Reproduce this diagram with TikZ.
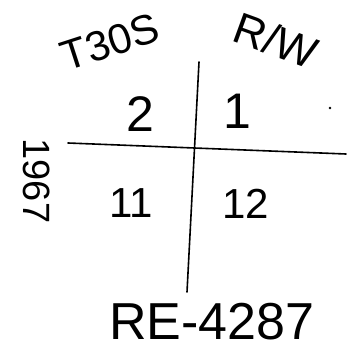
\documentclass[tikz,border=0pt]{standalone}
\usepackage{fontspec}
\setmainfont{Liberation Sans}
\begin{document}
\begin{tikzpicture}[x=1pt,y=-1pt,
  hand/.style={inner sep=0pt, font=\fontsize{#1}{#1}\selectfont},
  stroke/.style={line width=1.6pt, line cap=round}]
\useasboundingbox (0,0) rectangle (346,355);
% lines
\coordinate (vtop) at (199,62);
\coordinate (vbot) at (187,292);
\coordinate (hleft) at (68,143);
\coordinate (hright) at (346,154);
\draw[stroke] (vtop) -- (vbot);
\draw[stroke] (hleft) -- (hright);
% labels
\node[hand=42, rotate=18] (t30s) at (110,42) {T30S};
\node[hand=44, rotate=-20] (rw) at (276,40) {R/W};
\node[hand=50] (q2) at (140,114) {2};
\node[hand=50] (q1) at (237,111) {1};
\fill (330,108) circle (1.3pt);
\node[hand=42] (q11) at (131,203) {11};
\node[hand=42] (q12) at (246,204) {12};
\node[hand=38, rotate=-90] (yr) at (37,181) {1967};
\node[hand=52] (re) at (212,322) {RE-4287};
\end{tikzpicture}
\end{document}
